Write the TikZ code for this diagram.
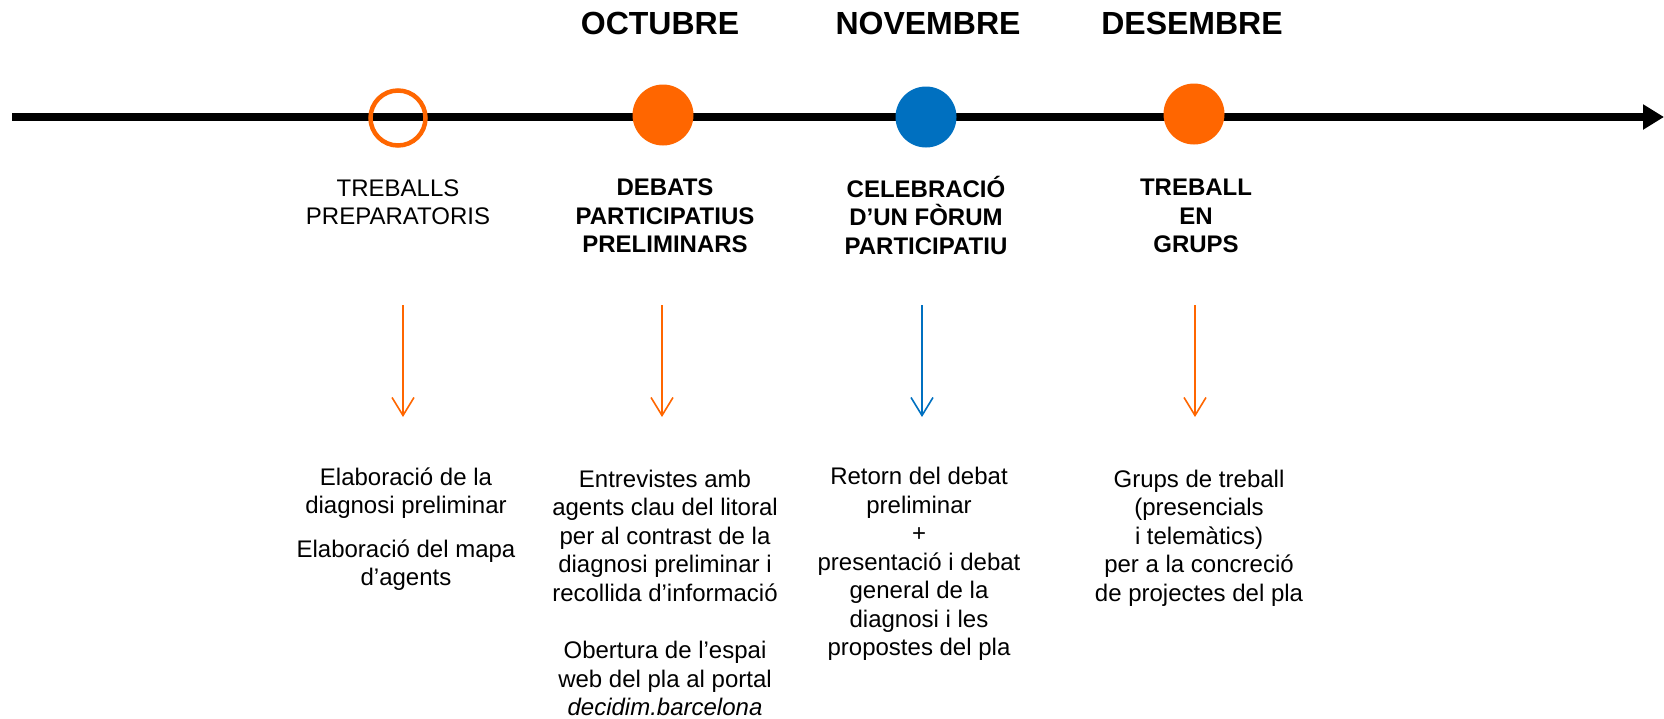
\documentclass[tikz,border=0pt]{standalone}
\usepackage{fontspec}
\setmainfont{Liberation Sans}
\usetikzlibrary{arrows.meta}
\definecolor{tlorange}{RGB}{255,102,0}
\definecolor{tlblue}{RGB}{0,112,192}
\begin{document}
\begin{tikzpicture}[x=1pt,y=-1pt,
  axisline/.style={line width=8pt,-{Triangle[length=21pt,width=24pt]}},
  dotfill/.style={circle,fill=#1,minimum size=61pt,inner sep=0pt},
  dotopen/.style={circle,draw=tlorange,line width=4.5pt,minimum size=55pt,inner sep=0pt},
  month/.style={font=\fontsize{32}{38}\selectfont\bfseries,inner sep=0pt},
  head/.style={font=\fontsize{24}{28.5}\selectfont\bfseries,align=center,inner sep=0pt},
  headreg/.style={font=\fontsize{24}{28.5}\selectfont,align=center,inner sep=0pt},
  body/.style={font=\fontsize{24}{28.5}\selectfont,align=center,inner sep=0pt},
  link/.style={draw=#1,line width=1.6pt,-{Straight Barb[length=18pt,width=22pt]}}]
\useasboundingbox (0,0) rectangle (1664,718);
% axis
\coordinate (axL) at (12,117);
\coordinate (axR) at (1664,117);
\draw[axisline] (axL) -- (axR);
% months
\node[month] (m1) at (660,23) {OCTUBRE};
\node[month] (m2) at (928,23) {NOVEMBRE};
\node[month] (m3) at (1192,23) {DESEMBRE};
% dots
\node[dotopen] (d0) at (398,118) {};
\node[dotfill=tlorange] (d1) at (663,115) {};
\node[dotfill=tlblue] (d2) at (926,117) {};
\node[dotfill=tlorange] (d3) at (1194,114) {};
% headings
\node[headreg] (h0) at (398,202) {TREBALLS\\PREPARATORIS};
\node[head] (h1) at (665,216) {DEBATS\\PARTICIPATIUS\\PRELIMINARS};
\node[head] (h2) at (926,215) {CELEBRACIÓ\\D’UN FÒRUM\\PARTICIPATIU};
\node[head] (h3) at (1196,216) {TREBALL\\EN\\GRUPS};
% arrows
\coordinate (a0s) at (403,305); \coordinate (a0e) at (403,417);
\coordinate (a1s) at (662,305); \coordinate (a1e) at (662,417);
\coordinate (a2s) at (922,305); \coordinate (a2e) at (922,417);
\coordinate (a3s) at (1195,305); \coordinate (a3e) at (1195,417);
\draw[link=tlorange] (a0s) -- (a0e);
\draw[link=tlorange] (a1s) -- (a1e);
\draw[link=tlblue] (a2s) -- (a2e);
\draw[link=tlorange] (a3s) -- (a3e);
% body texts
\node[body] (b0) at (406,529) {Elaboració de la\\diagnosi preliminar\\[15pt]Elaboració del mapa\\d’agents};
\node[body] (b1) at (665,593) {Entrevistes amb\\agents clau del litoral\\per al contrast de la\\diagnosi preliminar i\\recollida d’informació\\[29pt]Obertura de l’espai\\web del pla al portal\\\textit{decidim.barcelona}};
\node[body] (b2) at (919,564) {Retorn del debat\\preliminar\\+\\presentació i debat\\general de la\\diagnosi i les\\propostes del pla};
\node[body] (b3) at (1199,538) {Grups de treball\\(presencials\\i telemàtics)\\per a la concreció\\de projectes del pla};
\end{tikzpicture}
\end{document}
